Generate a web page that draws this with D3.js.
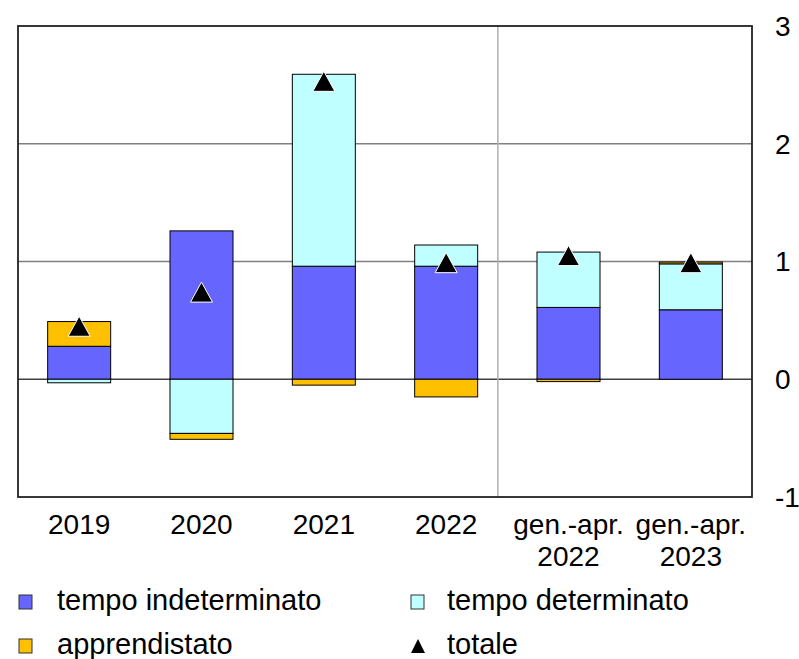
<!DOCTYPE html>
<html>
<head>
  <meta charset="utf-8">
  <script src="https://d3js.org/d3.v7.min.js"></script>
  <style>
    body { margin: 0; background: #fff; }
    svg text { font-family: Arial, "Liberation Sans", sans-serif; fill: #000; }
    .grid { stroke: #808080; stroke-width: 1.5px; }
    .zero { stroke: #404040; stroke-width: 1.5px; }
    .sep { stroke: #b0b0b0; stroke-width: 1.5px; }
    .frame { fill: none; stroke: #222; stroke-width: 1.8px; }
    .seg { stroke: #000; stroke-width: 1px; }
  </style>
</head>
<body>
<svg id="chart" width="799" height="659"></svg>
<script>
  // categories (two-line labels use "|")
  const categories = ["2019", "2020", "2021", "2022", "gen.-apr.|2022", "gen.-apr.|2023"];
  const indeterminato = [0.28, 1.26, 0.96, 0.96, 0.61, 0.59];
  const determinato   = [-0.03, -0.46, 1.63, 0.18, 0.47, 0.39];
  const apprendistato = [0.21, -0.05, -0.05, -0.15, -0.02, 0.015];
  const totale        = [0.45, 0.74, 2.53, 0.99, 1.05, 0.99];
  const yTicks = [-1, 0, 1, 2, 3];

  const keys = ["indeterminato", "determinato", "apprendistato"];
  const colors = { indeterminato: "#6666ff", determinato: "#c0ffff", apprendistato: "#ffc000" };

  const rows = categories.map((c, i) => ({
    cat: c,
    indeterminato: indeterminato[i],
    determinato: determinato[i],
    apprendistato: apprendistato[i]
  }));

  const svg = d3.select("#chart");
  const pLeft = 18, pRight = 752, pTop = 26, pBottom = 497;

  const x = d3.scaleBand().domain(categories).range([pLeft, pRight])
    .paddingInner(0.485).paddingOuter(0.2425);
  const y = d3.scaleLinear().domain([-1, 3]).range([pBottom, pTop]);

  // gridlines
  svg.append("g").selectAll("line").data(yTicks.filter(t => t > -1 && t < 3)).join("line")
    .attr("class", d => d === 0 ? "zero" : "grid")
    .attr("x1", pLeft).attr("x2", pRight)
    .attr("y1", d => y(d)).attr("y2", d => y(d));

  // separator between annual and partial-year data
  const sepX = x(categories[3]) + 0.68 * x.step();
  svg.append("line").attr("class", "sep")
    .attr("x1", sepX).attr("x2", sepX).attr("y1", pTop).attr("y2", pBottom);

  // stacked bars
  const series = d3.stack().keys(keys).offset(d3.stackOffsetDiverging)(rows);
  svg.append("g").selectAll("g").data(series).join("g")
    .attr("fill", d => colors[d.key])
    .selectAll("rect").data(d => d).join("rect")
    .attr("class", "seg")
    .attr("x", d => x(d.data.cat))
    .attr("width", x.bandwidth())
    .attr("y", d => y(Math.max(d[0], d[1])))
    .attr("height", d => Math.abs(y(d[0]) - y(d[1])));

  // totale markers
  const tri = (cx, cy, h, w) => `M${cx},${cy - h / 2}L${cx + w / 2},${cy + h / 2}L${cx - w / 2},${cy + h / 2}Z`;
  svg.append("g").selectAll("path").data(totale).join("path")
    .attr("d", (d, i) => tri(x(categories[i]) + x.bandwidth() / 2, y(d), 20, 22))
    .attr("fill", "#000").attr("stroke", "#fff").attr("stroke-width", 1);

  // frame
  svg.append("rect").attr("class", "frame")
    .attr("x", pLeft).attr("y", pTop).attr("width", pRight - pLeft).attr("height", pBottom - pTop);

  // right axis labels
  svg.append("g").selectAll("text").data(yTicks).join("text")
    .attr("x", 775).attr("y", d => y(d)).attr("dy", "0.35em")
    .style("font-size", "28px")
    .text(d => d);

  // category labels
  const cl = svg.append("g").selectAll("text").data(categories).join("text")
    .attr("text-anchor", "middle")
    .style("font-size", "28px")
    .attr("transform", d => `translate(${x(d) + x.bandwidth() / 2},534)`);
  cl.selectAll("tspan").data(d => d.split("|")).join("tspan")
    .attr("x", 0).attr("y", (d, i) => i * 32)
    .text(d => d);

  // legend
  const legend = [
    { label: "tempo indeterminato", key: "indeterminato", lx: 19, ly: 610 },
    { label: "tempo determinato", key: "determinato", lx: 411, ly: 610 },
    { label: "apprendistato", key: "apprendistato", lx: 19, ly: 654 },
    { label: "totale", key: "totale", lx: 411, ly: 654 }
  ];
  const lg = svg.append("g").selectAll("g").data(legend).join("g")
    .attr("transform", d => `translate(${d.lx},${d.ly})`);
  lg.filter(d => d.key !== "totale").append("rect")
    .attr("x", 0).attr("y", -15).attr("width", 13).attr("height", 14)
    .attr("fill", d => colors[d.key]).attr("stroke", "#333").attr("stroke-width", 1);
  lg.filter(d => d.key === "totale").append("path")
    .attr("d", tri(7, -8, 14, 14)).attr("fill", "#000");
  lg.append("text").attr("x", d => d.lx > 100 ? 36 : 38)
    .attr("y", 0).style("font-size", "29px").text(d => d.label);
</script>
</body>
</html>
